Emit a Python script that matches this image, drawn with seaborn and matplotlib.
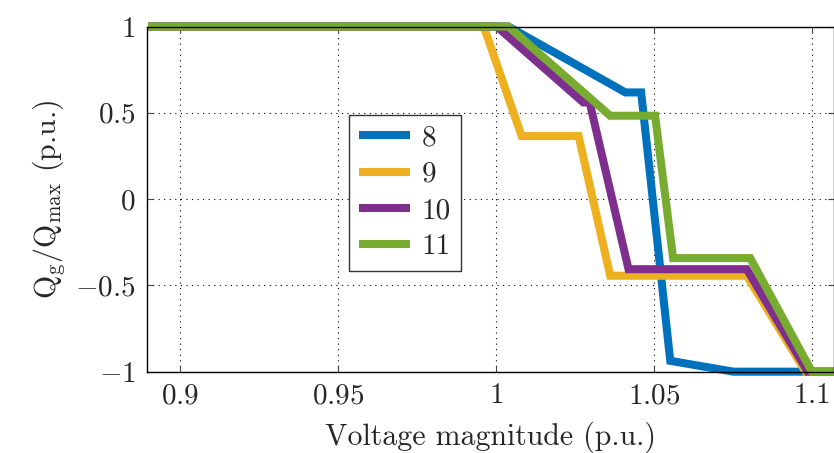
import numpy as np
import pandas as pd
import matplotlib
matplotlib.use("Agg")
import matplotlib.pyplot as plt
import seaborn as sns

# values (voltage in p.u., Qg/Qmax)
v_8 = [0.89, 1.004, 1.041, 1.046, 1.0552, 1.0752, 1.11]
q_8 = [1.0, 1.0, 0.618, 0.618, -0.937, -1.0, -1.0]

v_9 = [0.89, 0.9962, 1.0082, 1.0262, 1.0362, 1.0794, 1.098, 1.11]
q_9 = [1.0, 1.0, 0.365, 0.365, -0.444, -0.444, -1.0, -1.0]

v_10 = [0.89, 1.0003, 1.0277, 1.0297, 1.042, 1.0794, 1.0987, 1.11]
q_10 = [1.0, 1.0, 0.56, 0.56, -0.406, -0.406, -1.0, -1.0]

v_11 = [0.89, 1.004, 1.0362, 1.0504, 1.0561, 1.0805, 1.1, 1.11]
q_11 = [1.0, 1.0, 0.483, 0.483, -0.342, -0.342, -1.0, -1.0]

buses = ["8", "9", "10", "11"]
colors = ["#0072BD", "#EDB120", "#7E2F8E", "#77AC30"]

df = pd.concat([
    pd.DataFrame({"v": v_8, "q": q_8, "bus": "8"}),
    pd.DataFrame({"v": v_9, "q": q_9, "bus": "9"}),
    pd.DataFrame({"v": v_10, "q": q_10, "bus": "10"}),
    pd.DataFrame({"v": v_11, "q": q_11, "bus": "11"}),
])

sns.set_style("ticks")
plt.rcParams["font.family"] = "serif"
plt.rcParams["font.serif"] = ["cmr10"]
plt.rcParams["mathtext.fontset"] = "cm"
plt.rcParams["axes.unicode_minus"] = False

fig = plt.figure(figsize=(8.34, 4.53), dpi=100)
ax = fig.add_axes([0.176, 0.1795, 0.824, 0.762])

sns.lineplot(data=df, x="v", y="q", hue="bus", hue_order=buses,
             palette=colors, linewidth=5.8, sort=False, estimator=None,
             ax=ax, clip_on=False)
for ln in ax.lines:
    ln.set_solid_joinstyle("miter")
    ln.set_solid_capstyle("butt")

ax.set_xlim(0.8896, 1.107)
ax.set_ylim(-1, 1)
xt = [0.9, 0.95, 1.0, 1.05, 1.1]
ax.set_xticks(xt)
ax.set_xticklabels(["$0.9$", "$0.95$", "$1$", "$1.05$", "$1.1$"])
yt = [-1, -0.5, 0, 0.5, 1]
ax.set_yticks(yt)
ax.set_yticklabels(["$-1$", "$-0.5$", "$0$", "$0.5$", "$1$"])
ax.tick_params(direction="in", labelsize=21, length=4, top=True, right=True,
               color="#444444", pad=8)
ax.grid(True, linestyle=(0, (1, 4)), color="black", linewidth=0.8)
for s in ax.spines.values():
    s.set_linewidth(1.0)
    s.set_color("black")

ax.set_xlabel("Voltage magnitude (p.u.)", fontsize=21.5, labelpad=9)
ax.set_ylabel(r"$\mathrm{Q_g/Q_{max}}$ (p.u.)", fontsize=21.5, labelpad=6)

leg = ax.legend(loc="upper left", bbox_to_anchor=(0.294, 0.744),
                borderaxespad=0, fancybox=False, edgecolor="#333333",
                fontsize=21, handlelength=1.75, labelspacing=0.34,
                handletextpad=0.4, borderpad=0.35,
                framealpha=1, title=None)
leg.get_frame().set_linewidth(1.0)

fig.savefig("out.png", dpi=100)
